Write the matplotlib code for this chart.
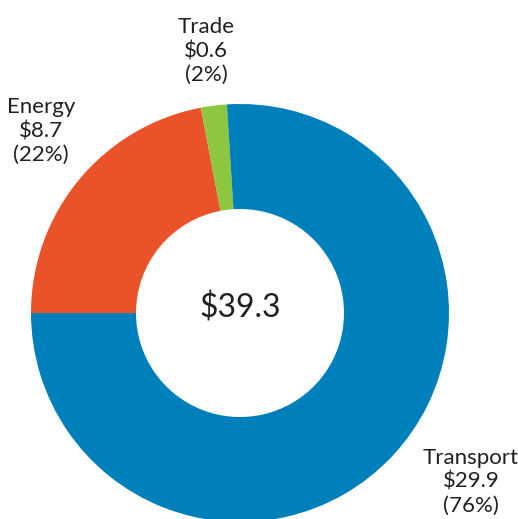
import matplotlib
matplotlib.use("Agg")
import matplotlib.pyplot as plt

categories = ["Energy", "Trade", "Transport"]
values = [8.7, 0.6, 29.9]
percents = [22, 2, 76]
total_label = "39.3"
colors = ["#EA5329", "#8DC63F", "#0080BA"]

plt.rcParams['font.family'] = ['Lato', 'DejaVu Sans']
TXT = "#231F20"

fig = plt.figure(figsize=(5.18, 5.19), dpi=100)
ax = fig.add_axes([0, 0, 1, 1])

cx, cy, R = 240, 519 - 313, 209
ax.pie(percents, colors=colors, startangle=180, counterclock=False,
       center=(cx, cy), radius=R,
       wedgeprops=dict(width=105, linewidth=0))
ax.set_xlim(0, 518)
ax.set_ylim(0, 519)
ax.set_aspect('equal')
ax.axis('off')

label_pos = {"Energy": (41, 519 - 131), "Trade": (206, 519 - 51), "Transport": (471, 519 - 482)}
for name, v, pct in zip(categories, values, percents):
    x, y = label_pos[name]
    ax.text(x, y, f"{name}\n\\${v}\n({pct}%)", ha='center', va='center',
            fontsize=16, color=TXT, linespacing=1.25)

ax.text(cx, 519 - 308, f"\\${total_label}", ha='center', va='center', fontsize=23, color=TXT)

fig.savefig("out.png", dpi=100)
